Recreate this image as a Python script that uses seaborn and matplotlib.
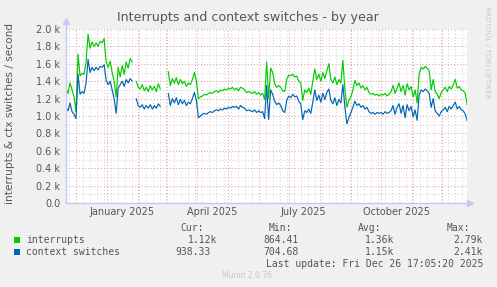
import numpy as np
import pandas as pd
import seaborn as sns
import matplotlib.pyplot as plt
import matplotlib.dates as mdates
from matplotlib.ticker import MultipleLocator, FixedLocator, NullFormatter
from matplotlib.patches import Rectangle

nan = float("nan")

# Munin "by year" graph: one sample every 2 days, values in thousands
start_date = "2024-11-21"
end_date = "2025-12-26 17:05:20"

interrupts = [
    1.31, 1.26, 1.38, 1.30, 1.22, 1.05, 1.71, 1.46, 1.49, 1.48,
    1.62, 1.94, 1.78, 1.85, 1.80, 1.84, 1.80, 1.86, 1.84, 1.89,
    1.62, 1.56, 1.63, 1.50, 1.40, 1.22, 1.56, 1.45, 1.58, 1.48,
    1.62, 1.55, 1.66, 1.62, nan, 1.40, 1.33, 1.31, 1.36, 1.29,
    1.33, 1.28, 1.35, 1.30, 1.34, 1.28, 1.37, 1.31, nan, nan,
    nan, 1.51, 1.35, 1.43, 1.38, 1.44, 1.36, 1.42, 1.37, 1.40,
    1.34, 1.38, 1.36, 1.42, 1.50, 1.40, 1.20, 1.22, 1.23, 1.25,
    1.24, 1.26, 1.27, 1.26, 1.28, 1.29, 1.27, 1.30, 1.29, 1.31,
    1.30, 1.32, 1.31, 1.33, 1.30, 1.32, 1.29, 1.33, 1.32, 1.30,
    1.27, 1.28, 1.27, 1.26, 1.28, 1.25, 1.27, 1.24, 1.26, 1.19,
    1.62, 1.20, 1.55, 1.50, 1.37, 1.33, 1.35, 1.33, 1.29, 1.28,
    1.42, 1.47, 1.46, 1.48, 1.45, 1.46, 1.40, 1.38, 1.18, 1.30,
    1.27, 1.32, 1.25, 1.40, 1.54, 1.42, 1.48, 1.40, 1.50, 1.43,
    1.52, 1.60, 1.42, 1.38, 1.45, 1.36, 1.42, 1.38, 1.64, 1.30,
    1.10, 1.18, 1.22, 1.30, 1.41, 1.35, 1.38, 1.32, 1.35, 1.30,
    1.33, 1.27, 1.25, 1.26, 1.24, 1.25, 1.23, 1.25, 1.24, 1.26,
    1.23, 1.25, 1.28, 1.35, 1.26, 1.32, 1.38, 1.28, 1.35, 1.24,
    1.37, 1.30, 1.34, 1.22, 1.30, 1.15, 1.48, 1.56, 1.54, 1.57,
    1.55, 1.52, 1.30, 1.42, 1.28, 1.25, 1.20, 1.27, 1.30, 1.33,
    1.28, 1.34, 1.31, 1.36, 1.42, 1.32, 1.34, 1.30, 1.29, 1.26,
    1.12,
]

ctx_switches = [
    1.09, 1.06, 1.15, 1.05, 1.02, 0.97, 1.48, 1.25, 1.28, 1.26,
    1.38, 1.65, 1.50, 1.56, 1.52, 1.56, 1.53, 1.57, 1.56, 1.59,
    1.41, 1.36, 1.40, 1.30, 1.20, 1.03, 1.32, 1.36, 1.40, 1.34,
    1.42, 1.38, 1.43, 1.40, nan, 1.20, 1.12, 1.10, 1.13, 1.08,
    1.12, 1.09, 1.13, 1.08, 1.12, 1.09, 1.14, 1.11, nan, nan,
    nan, 1.26, 1.12, 1.20, 1.15, 1.21, 1.13, 1.19, 1.14, 1.18,
    1.12, 1.16, 1.14, 1.20, 1.27, 1.18, 0.98, 1.00, 1.02, 1.03,
    1.02, 1.04, 1.05, 1.04, 1.06, 1.07, 1.06, 1.08, 1.07, 1.09,
    1.08, 1.10, 1.09, 1.11, 1.10, 1.11, 1.08, 1.12, 1.10, 1.09,
    1.06, 1.07, 1.06, 1.05, 1.07, 1.04, 1.06, 1.04, 1.05, 0.97,
    1.35, 0.96, 1.30, 1.25, 1.17, 1.13, 1.15, 1.12, 1.06, 1.04,
    1.18, 1.23, 1.21, 1.25, 1.22, 1.23, 1.17, 1.14, 0.96, 1.06,
    1.04, 1.08, 1.03, 1.16, 1.30, 1.18, 1.24, 1.16, 1.26, 1.19,
    1.27, 1.31, 1.18, 1.14, 1.21, 1.12, 1.19, 1.15, 1.36, 1.10,
    0.91, 0.98, 1.04, 1.10, 1.17, 1.12, 1.14, 1.10, 1.12, 1.08,
    1.10, 1.05, 1.03, 1.04, 1.02, 1.04, 1.03, 1.04, 1.02, 1.05,
    1.03, 1.04, 1.06, 1.12, 1.02, 1.10, 1.14, 1.03, 1.12, 0.98,
    1.13, 1.06, 1.11, 0.99, 1.07, 0.95, 1.24, 1.30, 1.28, 1.31,
    1.29, 1.26, 1.10, 1.20, 1.06, 1.03, 1.00, 1.05, 1.07, 1.10,
    1.05, 1.11, 1.08, 1.12, 1.16, 1.08, 1.11, 1.07, 1.06, 1.02,
    0.94,
]

series_names = ["interrupts", "context switches"]
series_colors = ["#00CC00", "#0066B3"]
cur_vals = ["1.12k", "938.33"]
min_vals = ["864.41", "704.68"]
avg_vals = ["1.36k", "1.15k"]
max_vals = ["2.79k", "2.41k"]

y_ticks = [0, 200, 400, 600, 800, 1000, 1200, 1400, 1600, 1800, 2000]
y_tick_labels = ["0.0", "0.2 k", "0.4 k", "0.6 k", "0.8 k", "1.0 k",
                 "1.2 k", "1.4 k", "1.6 k", "1.8 k", "2.0 k"]
x_labels = ["January 2025", "April 2025", "July 2025", "October 2025"]
x_label_dates = ["2025-01-16", "2025-04-16", "2025-07-16", "2025-10-16"]

title = "Interrupts and context switches - by year"
y_title = "interrupts & ctx switches / second"
last_update = "Last update: Fri Dec 26 17:05:20 2025"

# long table, with a segment id so gaps (nan) stay unconnected
dates = pd.date_range(start_date, periods=len(interrupts), freq="2D")
frames = []
for name, vals in zip(series_names, [interrupts, ctx_switches]):
    s = pd.Series(np.array(vals, dtype=float) * 1000)
    d = pd.DataFrame({"date": dates, "value": s.values,
                      "series": name, "seg": s.isna().cumsum().values})
    frames.append(d.dropna())
df = pd.concat(frames, ignore_index=True)

sns.set_style("white")
plt.rcParams["font.family"] = ["DejaVu Sans"]

W, H = 497, 287
text_col = "#555555"
axis_col = "#C8C8F4"

fig = plt.figure(figsize=(W / 100, H / 100), dpi=100, facecolor="#F0F0F0")
ax = fig.add_axes([66 / W, (H - 203) / H, 401 / W, 174 / H])
ax.set_facecolor("white")

sns.lineplot(data=df, x="date", y="value", hue="series", units="seg",
             estimator=None, hue_order=series_names, palette=series_colors,
             linewidth=0.85, legend=False, ax=ax)

ax.set_xlim(pd.Timestamp(start_date), pd.Timestamp(end_date) - pd.Timedelta(days=1))
ax.set_ylim(0, 2000)

ax.yaxis.set_major_locator(FixedLocator(y_ticks))
ax.set_yticklabels(y_tick_labels)
ax.yaxis.set_minor_locator(MultipleLocator(100))
ax.xaxis.set_major_locator(mdates.MonthLocator())
ax.xaxis.set_minor_locator(mdates.WeekdayLocator(byweekday=mdates.SU))
ax.xaxis.set_major_formatter(NullFormatter())

ax.grid(which="minor", color="#D4D4D4", linestyle=(0, (1, 2)), linewidth=0.75)
ax.grid(which="major", color="#E8A0A0", linestyle=(0, (1, 2)), linewidth=0.75)
ax.set_axisbelow(True)
ax.tick_params(axis="y", which="both", length=2, color="#CCCCCC",
               labelsize=7, labelcolor=text_col, pad=2)
ax.tick_params(axis="x", which="major", length=2, color="#E8A0A0")
ax.tick_params(axis="x", which="minor", length=2, color="#CCCCCC")
ax.set_xlabel("")
ax.set_ylabel("")
for sp in ax.spines.values():
    sp.set_visible(False)

# axis lines with arrows, rrdtool style
ax.plot([0, 0], [0, 1.045], transform=ax.transAxes, color=axis_col,
        lw=1, clip_on=False)
ax.plot([0], [1.045], marker="^", ms=4, color=axis_col,
        transform=ax.transAxes, clip_on=False)
ax.plot([0, 1.008], [0, 0], transform=ax.transAxes, color=axis_col,
        lw=1, clip_on=False)
ax.plot([1.008], [0], marker=">", ms=4, color=axis_col,
        transform=ax.transAxes, clip_on=False)

for lab, d in zip(x_labels, x_label_dates):
    ax.text(pd.Timestamp(d), -0.05, lab, transform=ax.get_xaxis_transform(),
            ha="center", va="center", fontsize=7, color=text_col)


def px(x, y):
    return x / W, 1 - y / H


fig.text(*px(248, 18), title, ha="center", va="center", fontsize=9.1, color=text_col)
fig.text(*px(10, 113), y_title, rotation=90, ha="center", va="center",
         fontsize=7.6, color=text_col)
fig.text(*px(487, 52), "RRDTOOL / TOBI OETIKER", rotation=270, ha="center",
         va="center", fontsize=5.2, color="#C8C8C8")
fig.text(*px(247, 276), "Munin 2.0.76", ha="center", va="center",
         fontsize=5.5, color="#C8C8C8")

mono = dict(family="DejaVu Sans Mono", fontsize=7, color=text_col, va="center")
for hdr, x in zip(["Cur:", "Min:", "Avg:", "Max:"], [180, 269, 358, 447]):
    fig.text(*px(x, 228), hdr, ha="left", **mono)

rows_y = [240, 252]
for i, name in enumerate(series_names):
    y = rows_y[i]
    fig.patches.append(Rectangle(px(14, y + 3), 6 / W, 6 / H,
                                 transform=fig.transFigure,
                                 facecolor=series_colors[i], edgecolor="none"))
    fig.text(*px(26.5, y), name, ha="left", **mono)
    cur_right = 217 if cur_vals[i].endswith("k") else 211
    fig.text(*px(cur_right, y), cur_vals[i], ha="right", **mono)
    fig.text(*px(299, y), min_vals[i], ha="right", **mono)
    fig.text(*px(394, y), avg_vals[i], ha="right", **mono)
    fig.text(*px(483, y), max_vals[i], ha="right", **mono)

fig.text(*px(483, 264), last_update, ha="right", **mono)

fig.savefig("out.png", dpi=100, facecolor=fig.get_facecolor())
